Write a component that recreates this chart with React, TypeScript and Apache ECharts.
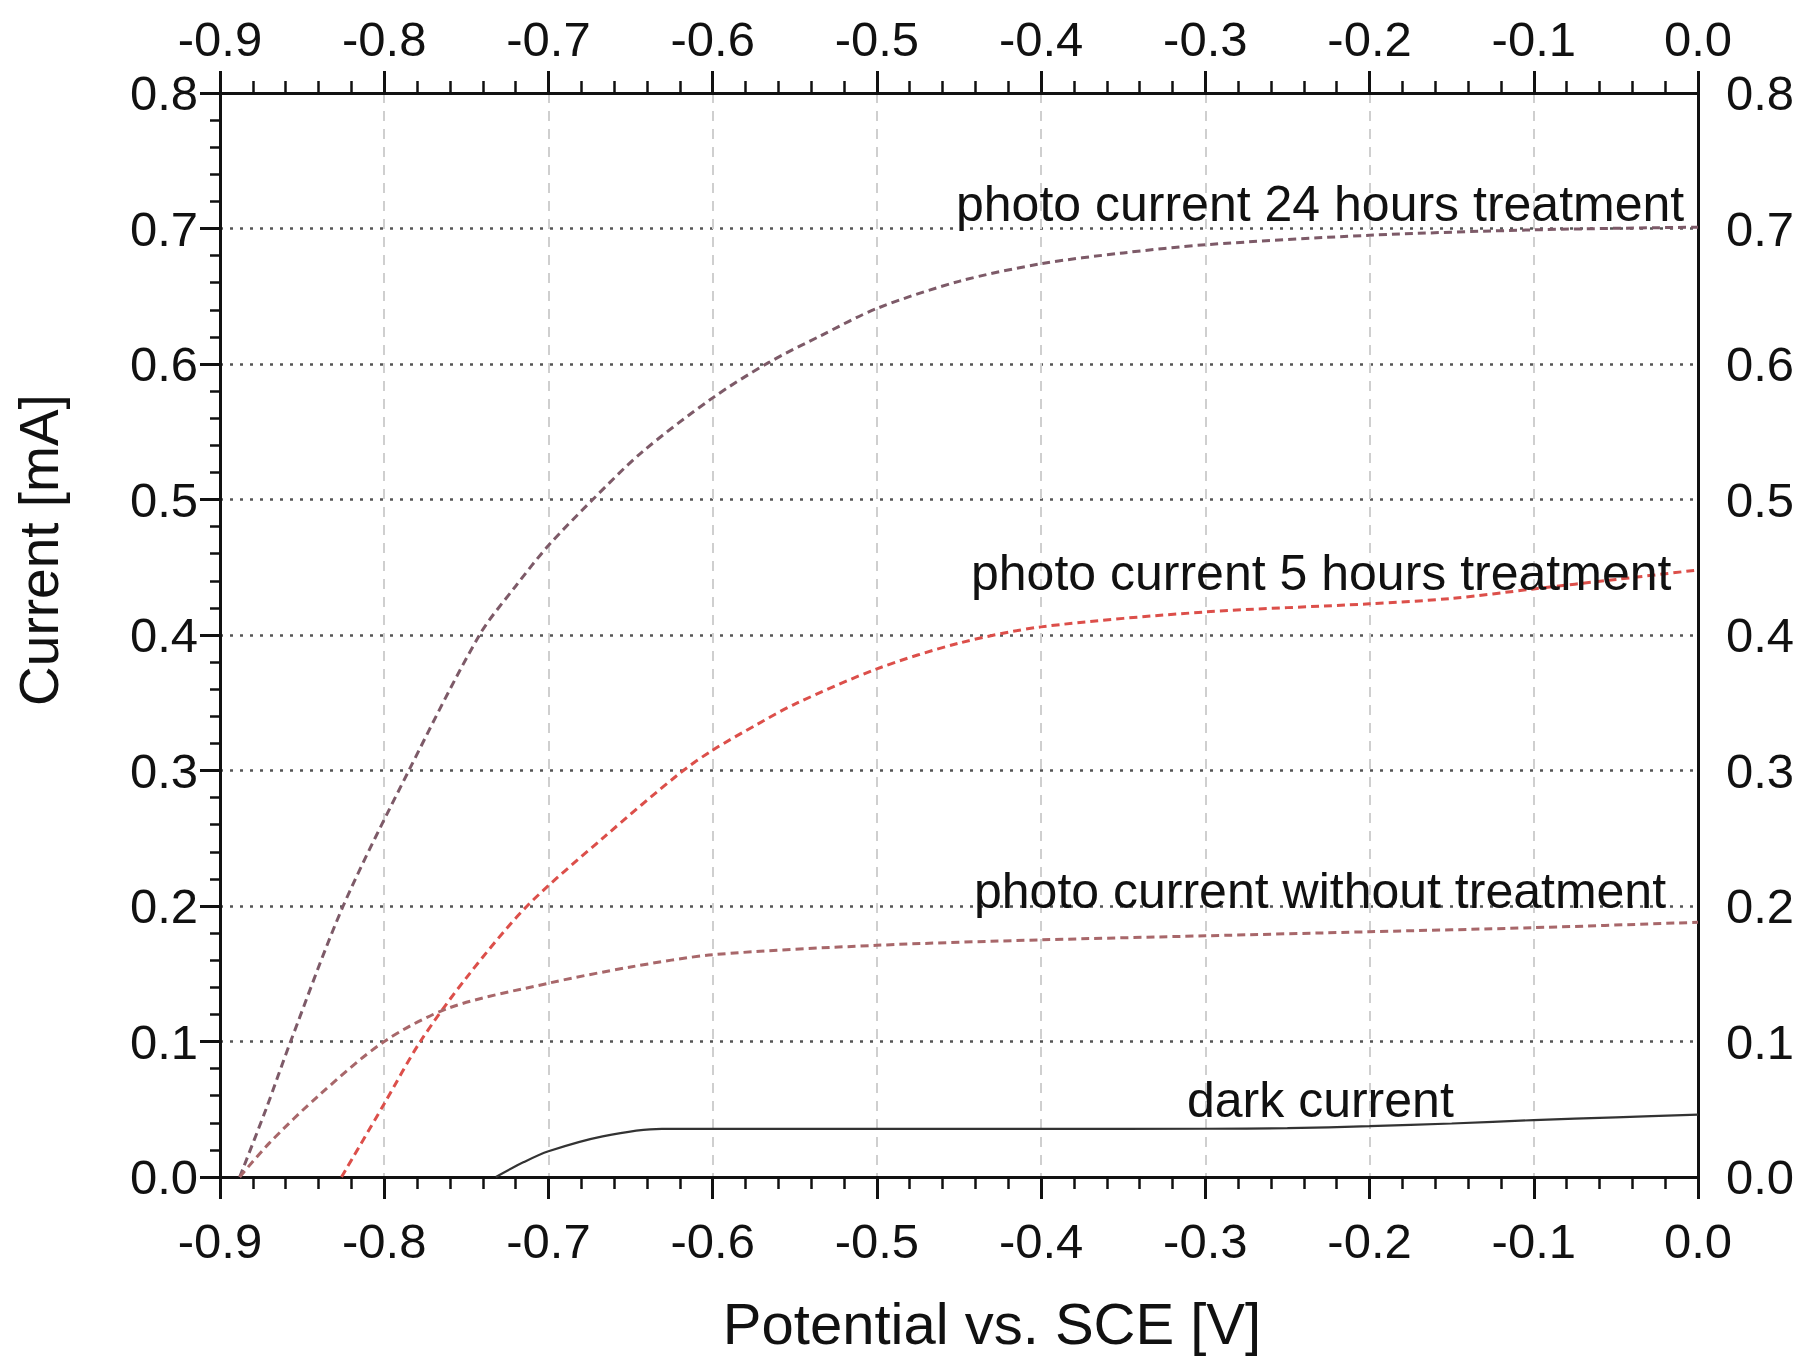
import React, { useEffect, useRef } from "react";
import * as echarts from "echarts";

// Potential vs. SCE [V] (x) and current [mA] (y)
const v24h = [-0.888, -0.872, -0.857, -0.825, -0.785, -0.742, -0.72, -0.7, -0.673, -0.643, -0.6, -0.566, -0.534, -0.5, -0.45, -0.4, -0.35, -0.3, -0.2, -0.1, 0.0];
const i24h = [0.0, 0.05, 0.1, 0.2, 0.3, 0.4, 0.436, 0.466, 0.5, 0.535, 0.575, 0.601, 0.621, 0.641, 0.661, 0.674, 0.682, 0.688, 0.695, 0.699, 0.701];

const v5h = [-0.826, -0.8, -0.778, -0.75, -0.713, -0.666, -0.62, -0.6, -0.573, -0.55, -0.5, -0.45, -0.4, -0.3, -0.2, -0.15, -0.1, -0.05, 0.0];
const i5h = [0.0, 0.054, 0.1, 0.147, 0.2, 0.251, 0.298, 0.315, 0.334, 0.349, 0.375, 0.394, 0.406, 0.417, 0.423, 0.427, 0.434, 0.441, 0.448];

const vNone = [-0.888, -0.87, -0.84, -0.8, -0.76, -0.7, -0.65, -0.6, -0.5, -0.4, -0.3, -0.2, -0.1, 0.0];
const iNone = [0.0, 0.025, 0.06, 0.1, 0.125, 0.143, 0.155, 0.164, 0.171, 0.175, 0.178, 0.181, 0.184, 0.188];

const vDark = [-0.732, -0.715, -0.7, -0.667, -0.631, -0.5, -0.4, -0.3, -0.25, -0.2, -0.15, -0.1, -0.05, 0.0];
const iDark = [0.0, 0.011, 0.019, 0.03, 0.0355, 0.0355, 0.0355, 0.0356, 0.036, 0.0375, 0.0395, 0.042, 0.044, 0.046];

const xMin = -0.9;
const xMax = 0.0;
const xStep = 0.1;
const yMin = 0.0;
const yMax = 0.8;
const yStep = 0.1;

const labels = [
  { text: "photo current 24 hours treatment", x: 956, y: 204 },
  { text: "photo current 5 hours treatment", x: 971, y: 573 },
  { text: "photo current without treatment", x: 974, y: 891 },
  { text: "dark current", x: 1187, y: 1100 },
];

const xTitle = "Potential vs. SCE [V]";
const yTitle = "Current [mA]";

export default function App() {
  const ref = useRef<HTMLDivElement>(null);
  useEffect(() => {
    const chart = echarts.init(ref.current!, null, { renderer: "svg" });
    const FONT = '"Liberation Sans", Arial, Helvetica, sans-serif';
    const fmt = (v: number) => (Math.abs(v) < 1e-9 ? "0.0" : v.toFixed(1));
    const pairs = (xs: number[], ys: number[]) => xs.map((x, k) => [x, ys[k]]);
    const labelStyle = { fontFamily: FONT, fontSize: 49, color: "#111" };

    const xAxisBase = {
      type: "value",
      min: xMin,
      max: xMax,
      interval: xStep,
      axisLine: { show: true, onZero: false, lineStyle: { color: "#111", width: 3 } },
      axisTick: { show: true, inside: false, length: 22, lineStyle: { color: "#111", width: 3 } },
      minorTick: { show: true, splitNumber: 5, length: 12, lineStyle: { color: "#111", width: 2.5 } },
    };

    const seriesLine = (name: string, data: number[][], color: string, dashed: boolean, width: number) => ({
      name,
      type: "line",
      data,
      showSymbol: false,
      smooth: 0.3,
      lineStyle: { color, width, type: dashed ? [8, 5] : "solid" },
      silent: true,
      z: 3,
    });

    chart.setOption({
      animation: false,
      backgroundColor: "#fff",
      grid: { left: 220, right: 110, top: 93, bottom: 187, containLabel: false, outerBoundsMode: "none" },
      xAxis: [
        {
          ...xAxisBase,
          position: "bottom",
          axisLabel: { ...labelStyle, margin: 39, formatter: fmt },
          splitLine: { show: true, lineStyle: { color: "#cfcfcf", width: 2, type: [10, 8] } },
        },
        {
          ...xAxisBase,
          position: "top",
          axisLabel: { ...labelStyle, margin: 30, formatter: fmt },
          splitLine: { show: false },
        },
      ],
      yAxis: [
        {
          type: "value",
          min: yMin,
          max: yMax,
          interval: yStep,
          position: "left",
          axisLine: { show: true, onZero: false, lineStyle: { color: "#111", width: 3 } },
          axisTick: { show: true, inside: false, length: 20, lineStyle: { color: "#111", width: 3 } },
          minorTick: { show: true, splitNumber: 5, length: 10, lineStyle: { color: "#111", width: 2.5 } },
          axisLabel: { ...labelStyle, margin: 22, formatter: fmt },
          splitLine: { show: true, lineStyle: { color: "#555", width: 2.5, type: [3, 7] } },
        },
        {
          type: "value",
          min: yMin,
          max: yMax,
          interval: yStep,
          position: "right",
          axisLine: { show: true, onZero: false, lineStyle: { color: "#111", width: 3 } },
          axisTick: { show: false },
          minorTick: { show: false },
          axisLabel: { ...labelStyle, margin: 28, formatter: fmt },
          splitLine: { show: false },
        },
      ],
      series: [
        seriesLine("photo current 24 hours treatment", pairs(v24h, i24h), "#7d5a68", true, 3),
        seriesLine("photo current 5 hours treatment", pairs(v5h, i5h), "#dc4f4a", true, 3),
        seriesLine("photo current without treatment", pairs(vNone, iNone), "#a8676a", true, 3),
        seriesLine("dark current", pairs(vDark, iDark), "#333", false, 2.2),
      ],
      graphic: [
        ...labels.map((l) => ({
          type: "text",
          x: l.x,
          y: l.y,
          silent: true,
          z: 10,
          style: { text: l.text, fontFamily: FONT, fontSize: 50, fill: "#111", align: "left", verticalAlign: "middle" },
        })),
        {
          type: "text",
          x: 992,
          y: 1323,
          silent: true,
          style: { text: xTitle, fontFamily: FONT, fontSize: 58, fill: "#111", align: "center", verticalAlign: "middle" },
        },
        {
          type: "text",
          x: 39,
          y: 550,
          rotation: Math.PI / 2,
          silent: true,
          style: { text: yTitle, fontFamily: FONT, fontSize: 55, fill: "#111", align: "center", verticalAlign: "middle" },
        },
      ],
    });
    return () => chart.dispose();
  }, []);
  return (
    <div
      ref={ref}
      style={{ position: "absolute", left: 0, top: 0, width: 1808, height: 1364, background: "#fff" }}
    />
  );
}
